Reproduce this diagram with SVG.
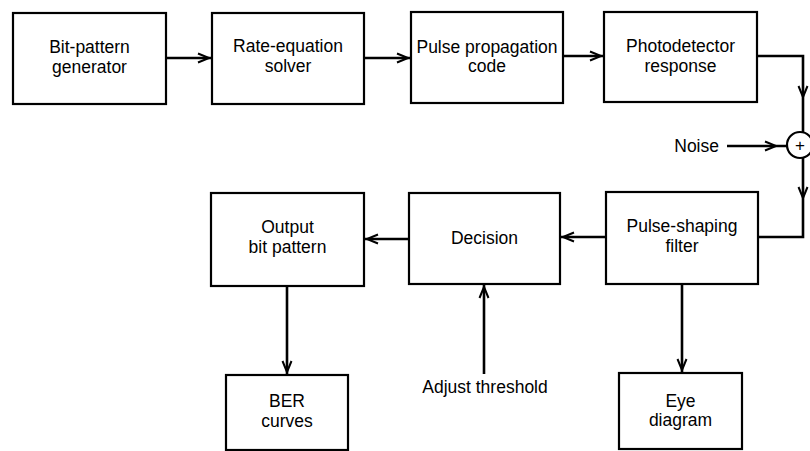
<svg xmlns="http://www.w3.org/2000/svg" xmlns:xlink="http://www.w3.org/1999/xlink" width="810" height="451" viewBox="0 0 810 451">
<style>
.box{fill:#fff;stroke:#000;stroke-width:2.2}
.t{font-family:"Liberation Sans",Arial,sans-serif;font-size:17.5px;fill:#000;text-anchor:middle}
.c{fill:none;stroke:#000;stroke-width:2.6}
.ah{fill:none;stroke:#000;stroke-width:2;stroke-linejoin:miter}
</style>
<defs>
<path id="ah" class="ah" d="M-11,-4.5 L0,0 L-11,4.5"/>
</defs>
<rect width="810" height="451" fill="#fff"/>
<g id="connectors">
<path class="c" d="M166,58 H212"/>
<path class="c" d="M364,58 H411"/>
<path class="c" d="M563,56 H604"/>
<path class="c" d="M757,56 H803 V132"/>
<path class="c" d="M727,146 H787"/>
<path class="c" d="M803,158 V237 H758"/>
<path class="c" d="M606,237 H560"/>
<path class="c" d="M409,239 H364"/>
<path class="c" d="M287,286 V375"/>
<path class="c" d="M682,284 V373"/>
<path class="c" d="M484,374 V284"/>
<use xlink:href="#ah" transform="translate(209,58)"/>
<use xlink:href="#ah" transform="translate(408,58)"/>
<use xlink:href="#ah" transform="translate(601,56)"/>
<use xlink:href="#ah" transform="translate(803,97) rotate(90)"/>
<use xlink:href="#ah" transform="translate(776,146)"/>
<use xlink:href="#ah" transform="translate(803,198) rotate(90)"/>
<use xlink:href="#ah" transform="translate(563,237) rotate(180)"/>
<use xlink:href="#ah" transform="translate(367,239) rotate(180)"/>
<use xlink:href="#ah" transform="translate(287,372) rotate(90)"/>
<use xlink:href="#ah" transform="translate(682,370) rotate(90)"/>
<use xlink:href="#ah" transform="translate(484,287) rotate(-90)"/>
</g>
<g id="bitgen"><rect class="box" x="13" y="13" width="153" height="91"/><text class="t" x="89.5" y="53">Bit-pattern</text><text class="t" x="89.5" y="73">generator</text></g>
<g id="rateeq"><rect class="box" x="212" y="13" width="152" height="91"/><text class="t" x="288" y="52">Rate-equation</text><text class="t" x="288" y="72">solver</text></g>
<g id="pulseprop"><rect class="box" x="411" y="12" width="152" height="91"/><text class="t" x="487" y="53">Pulse propagation</text><text class="t" x="487" y="72">code</text></g>
<g id="photodet"><rect class="box" x="604" y="12" width="153" height="90"/><text class="t" x="680.5" y="52">Photodetector</text><text class="t" x="680.5" y="72">response</text></g>
<g id="sum"><circle cx="800" cy="145" r="13" fill="#fff" stroke="#000" stroke-width="2.2"/><text class="t" x="800" y="151" style="font-size:17px">+</text></g>
<g id="noise"><text class="t" x="719" y="152" style="text-anchor:end">Noise</text></g>
<g id="pulseshape"><rect class="box" x="606" y="192" width="152" height="92"/><text class="t" x="682" y="232">Pulse-shaping</text><text class="t" x="682" y="252">filter</text></g>
<g id="decision"><rect class="box" x="409" y="193" width="151" height="91"/><text class="t" x="484.5" y="244">Decision</text></g>
<g id="output"><rect class="box" x="211" y="193" width="153" height="93"/><text class="t" x="287.5" y="233">Output</text><text class="t" x="287.5" y="253">bit pattern</text></g>
<g id="ber"><rect class="box" x="226" y="375" width="122" height="75"/><text class="t" x="287" y="407">BER</text><text class="t" x="287" y="427">curves</text></g>
<g id="threshold"><text class="t" x="485" y="393">Adjust threshold</text></g>
<g id="eye"><rect class="box" x="619" y="373" width="123" height="76"/><text class="t" x="680.5" y="407">Eye</text><text class="t" x="680.5" y="426">diagram</text></g>
</svg>
